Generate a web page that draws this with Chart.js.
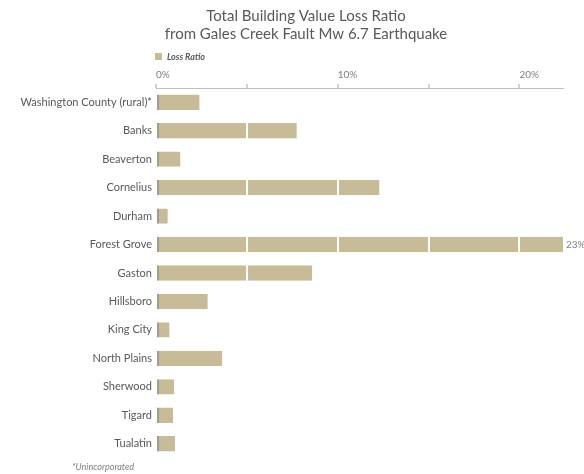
<!DOCTYPE html>
<html>
<head>
<meta charset="utf-8">
<script src="https://cdn.jsdelivr.net/npm/chart.js@4"></script>
<style>
  html, body { margin: 0; padding: 0; background: #fff; }
  #wrap { width: 584px; height: 474px; }
</style>
</head>
<body>
<div id="wrap"><canvas id="c" width="584" height="474"></canvas></div>
<script>
const categories = ["Washington County (rural)*", "Banks", "Beaverton", "Cornelius", "Durham", "Forest Grove", "Gaston", "Hillsboro", "King City", "North Plains", "Sherwood", "Tigard", "Tualatin"];
const lossRatio = [2.4, 7.75, 1.35, 12.3, 0.65, 23, 8.6, 2.85, 0.75, 3.65, 1.0, 0.95, 1.05];
const seriesName = "Loss Ratio";
const titleLines = ["Total Building Value Loss Ratio", "from Gales Creek Fault Mw 6.7 Earthquake"];
const footnote = "*Unincorporated";
const axisMax = 22.4;

const FONT = "Lato, 'Open Sans', sans-serif";
const GREY = "#595959";
const BAR = "#c8bb98";

const extras = {
  id: "extras",
  afterDatasetsDraw(chart) {
    const ctx = chart.ctx;
    const area = chart.chartArea;
    const meta = chart.getDatasetMeta(0);
    ctx.save();
    ctx.font = "10px " + FONT;
    ctx.fillStyle = "#7f7f7f";
    ctx.textBaseline = "middle";
    ctx.textAlign = "left";
    meta.data.forEach((bar, i) => {
      const v = lossRatio[i];
      if (v > chart.scales.x.max) {
        const x = Math.min(bar.x, area.right) + 3;
        ctx.fillText(Math.round(v) + "%", x, bar.y);
      }
    });
    ctx.restore();
  },
  afterDraw(chart) {
    const ctx = chart.ctx;
    const area = chart.chartArea;
    ctx.save();
    // title
    ctx.fillStyle = GREY;
    ctx.font = "15px " + FONT;
    ctx.textAlign = "center";
    ctx.textBaseline = "middle";
    titleLines.forEach((t, i) => ctx.fillText(t, 306, 16 + i * 18));
    // legend
    const ly = area.top - 31;
    ctx.fillStyle = BAR;
    ctx.fillRect(area.left - 1, ly - 4, 7, 7);
    ctx.fillStyle = GREY;
    ctx.font = "italic bold 9px " + FONT;
    ctx.textAlign = "left";
    ctx.fillText(seriesName, area.left + 11, ly);
    // footnote
    ctx.font = "italic 9px " + FONT;
    ctx.fillStyle = "#7f7f7f";
    ctx.fillText(footnote, 72, chart.height - 7);
    ctx.restore();
  }
};

new Chart(document.getElementById("c"), {
  type: "bar",
  data: {
    labels: categories,
    datasets: [{
      label: seriesName,
      data: lossRatio,
      backgroundColor: BAR,
      borderColor: "#a09c94",
      borderWidth: { left: 2, right: 0, top: 0, bottom: 0 },
      borderSkipped: false,
      categoryPercentage: 1,
      barPercentage: 0.54
    }]
  },
  plugins: [extras],
  options: {
    indexAxis: "y",
    responsive: false,
    animation: false,
    devicePixelRatio: 1,
    layout: { padding: { left: 6, right: 21, top: 66, bottom: 16 } },
    plugins: {
      legend: { display: false },
      tooltip: { enabled: false },
      title: { display: false }
    },
    scales: {
      x: {
        position: "top",
        min: 0,
        max: axisMax,
        afterBuildTicks(scale) {
          scale.ticks = scale.ticks.filter(t => t.value % 5 === 0);
        },
        ticks: {
          stepSize: 5,
          color: "#7f7f7f",
          font: { family: FONT, size: 10 },
          padding: 3,
          align: "start",
          callback: v => (v % 10 === 0 ? v + "%" : "")
        },
        grid: {
          z: 1,
          drawOnChartArea: true,
          tickLength: 4,
          lineWidth: 2,
          color: c => (c.tick && c.tick.value === 0 ? "rgba(0,0,0,0)" : "#ffffff"),
          tickColor: "#a6a6a6",
          tickWidth: 1
        },
        border: { display: true, color: "#bfbfbf", width: 1, z: 2 }
      },
      y: {
        afterFit(scale) { scale.width = 150; },
        ticks: {
          color: GREY,
          font: { family: FONT, size: 11 },
          padding: 4,
          autoSkip: false
        },
        grid: { display: false, drawTicks: false },
        border: { display: false }
      }
    }
  }
});
</script>
</body>
</html>
